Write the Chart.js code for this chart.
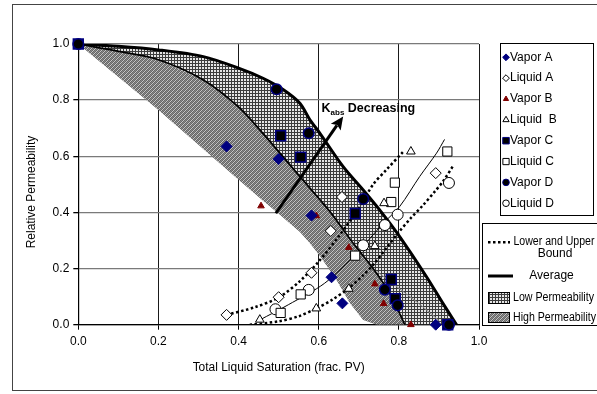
<!DOCTYPE html>
<html><head><meta charset="utf-8">
<script src="https://cdn.jsdelivr.net/npm/chart.js@4.4.0/dist/chart.umd.min.js"></script>
<style>html,body{margin:0;padding:0;background:#fff;}#wrap{width:597px;height:394px;}</style>
</head><body><div id="wrap"><canvas id="c" width="597" height="394"></canvas></div>
<script>
// ---- data ----
const xTickValues = [0, 0.2, 0.4, 0.6, 0.8, 1.0];
const yTickValues = [0, 0.2, 0.4, 0.6, 0.8, 1.0];
const xTitle = 'Total Liquid Saturation (frac. PV)';
const yTitle = 'Relative Permeability';

const vaporA  = [[0.37,0.635],[0.50,0.59],[0.582,0.389],[0.632,0.169],[0.659,0.076],[0.892,0.0]];
const liquidA = [[0.37,0.035],[0.50,0.098],[0.582,0.185],[0.63,0.334],[0.658,0.455],[0.892,0.54]];
const vaporB  = [[0.456,0.423],[0.594,0.388],[0.675,0.275],[0.74,0.145],[0.762,0.075],[0.83,0.0]];
const liquidB = [[0.453,0.018],[0.594,0.058],[0.675,0.128],[0.74,0.28],[0.763,0.433],[0.83,0.617]];
const vaporC  = [[0.0,1.0],[0.505,0.673],[0.555,0.597],[0.691,0.396],[0.781,0.161],[0.791,0.093],[0.922,0.0]];
const liquidC = [[0.505,0.042],[0.555,0.108],[0.691,0.246],[0.781,0.437],[0.79,0.506],[0.921,0.617]];
const vaporD  = [[0.0,1.0],[0.495,0.839],[0.575,0.682],[0.711,0.448],[0.765,0.125],[0.797,0.069],[0.925,0.0]];
const liquidD = [[0.492,0.055],[0.575,0.124],[0.711,0.283],[0.765,0.355],[0.797,0.392],[0.925,0.505]];

// vapour envelope curves
const upperCurve  = [[0.0,1.0],[0.1,0.992],[0.2,0.979],[0.312,0.955],[0.4,0.914],[0.461,0.878],[0.511,0.838],[0.553,0.789],[0.578,0.73],[0.603,0.682],[0.661,0.563],[0.711,0.48],[0.752,0.409],[0.802,0.314],[0.869,0.171],[0.91,0.076],[0.944,0.0]];
const middleCurve = [[0.0,1.0],[0.104,0.973],[0.2,0.944],[0.312,0.872],[0.399,0.777],[0.453,0.694],[0.553,0.528],[0.603,0.445],[0.634,0.392],[0.686,0.29],[0.732,0.207],[0.777,0.112],[0.815,0.0]];
const lowerEdge   = [[0.0,1.0],[0.2,0.765],[0.4,0.516],[0.45,0.455],[0.5,0.395],[0.553,0.33],[0.578,0.29],[0.603,0.245],[0.644,0.16],[0.678,0.076],[0.711,0.017],[0.745,0.0]];
const innerThin   = [[0.745,0.19],[0.8,0.13],[0.85,0.075],[0.9,0.015]];

// liquid curves
const liquidUpper = [[0.37,0.035],[0.44,0.062],[0.5,0.097],[0.553,0.155],[0.6,0.225],[0.65,0.315],[0.7,0.415],[0.736,0.5],[0.769,0.552],[0.81,0.615]];
const liquidLower = [[0.428,0.0],[0.5,0.012],[0.55,0.03],[0.594,0.058],[0.635,0.09],[0.675,0.13],[0.71,0.175],[0.74,0.22],[0.77,0.275],[0.8,0.33],[0.83,0.38],[0.86,0.425],[0.89,0.475],[0.91,0.51],[0.935,0.565]];
const liquidAvg   = [[0.453,0.017],[0.524,0.071],[0.615,0.148],[0.694,0.254],[0.761,0.361],[0.802,0.421],[0.852,0.528],[0.894,0.611],[0.914,0.66]];

const arrowFrom = [0.493, 0.397];
const arrowTo   = [0.661, 0.742];
const labelAt   = [0.607, 0.759];

const legendSeries = ['Vapor A','Liquid A','Vapor B','Liquid  B','Vapor C','Liquid C','Vapor D','Liquid D'];

// ---- helpers ----
const pts = a => a.map(p => ({x: p[0], y: p[1]}));
const FONT = '"Liberation Sans", Arial, Helvetica, sans-serif';
Chart.defaults.font.family = FONT;
Chart.defaults.font.size = 12;
Chart.defaults.color = '#000';

function makePattern(kind){
  const c = document.createElement('canvas');
  const g = c.getContext('2d');
  if (kind === 'cross') {
    c.width = 3; c.height = 3;
    g.fillStyle = '#e6e6e6'; g.fillRect(0,0,3,3);
    g.fillStyle = '#3c3c3c'; g.fillRect(0,0,3,1); g.fillRect(0,0,1,3);
  } else {
    c.width = 4; c.height = 4;
    g.fillStyle = '#c6c6c6'; g.fillRect(0,0,4,4);
    g.fillStyle = '#666';
    for (let x=0;x<4;x++) for (let y=0;y<4;y++) { if ((x + y) % 2 === 0) g.fillRect(x,y,1,1); }
    g.fillStyle = '#8a8a8a';
    for (let x=0;x<4;x++) for (let y=0;y<4;y++) { if ((x + y) % 4 === 1) g.fillRect(x,y,1,1); }
  }
  return document.getElementById('c').getContext('2d').createPattern(c,'repeat');
}
const crossPat = makePattern('cross');
const diagPat = makePattern('diag');

const lowPermPoly  = upperCurve.concat(middleCurve.slice().reverse());
const highPermPoly = middleCurve.concat(lowerEdge.slice().reverse());

function lineDs(data, opts){
  return Object.assign({data: pts(data), showLine: true, pointRadius: 0, pointHoverRadius: 0,
    borderColor: '#000', borderWidth: 1, fill: false, tension: 0.3}, opts);
}
function markDs(label, data, style, radius, bg, border, bw, order){
  return {label, data: pts(data), showLine: false, pointStyle: style, pointRadius: radius,
    pointHoverRadius: radius, backgroundColor: bg, borderColor: border, pointBorderWidth: bw,
    borderWidth: bw, order, clip: false};
}

const datasets = [
  lineDs(lowPermPoly, {fill: 'shape', backgroundColor: crossPat, borderWidth: 0, tension: 0, order: 20, borderColor: 'rgba(0,0,0,0)'}),
  lineDs(highPermPoly, {fill: 'shape', backgroundColor: diagPat, borderWidth: 0, tension: 0, order: 19, borderColor: 'rgba(0,0,0,0)'}),
  lineDs(innerThin, {borderColor: '#8a8a8a', borderWidth: 1, order: 15}),
  lineDs(middleCurve, {borderWidth: 1.7, order: 14}),
  lineDs(upperCurve, {borderWidth: 3, order: 13}),
  lineDs(liquidAvg, {borderWidth: 1, order: 12}),
  lineDs(liquidUpper, {borderWidth: 2.5, borderDash: [2.5,2.5], order: 11}),
  lineDs(liquidLower, {borderWidth: 2.5, borderDash: [2.5,2.5], order: 11}),
  markDs('Liquid A', liquidA, 'rectRot', 5.5, '#fff', '#000', 1, 9),
  markDs('Liquid B', liquidB, 'triangle', 5, '#fff', '#000', 1, 9),
  markDs('Liquid C', liquidC, 'rect', 6.5, '#fff', '#000', 1, 9),
  markDs('Liquid D', liquidD, 'circle', 5.5, '#fff', '#000', 1, 9),
  markDs('Vapor A', vaporA, 'rectRot', 5.5, '#000080', '#000080', 1, 5),
  markDs('Vapor B', vaporB, 'triangle', 3.8, '#800000', '#800000', 1, 5),
  markDs('Vapor C', vaporC, 'rect', 7, '#000000', '#000080', 1.5, 4),
  markDs('Vapor D', vaporD, 'circle', 5.3, '#000000', '#000080', 1.5, 3),
];

const decor = {
  id: 'decor',
  afterDraw(chart){
    const ctx = chart.ctx, xs = chart.scales.x, ys = chart.scales.y;
    const H = Chart.helpers;
    ctx.save();
    // outer frame
    ctx.strokeStyle = '#444'; ctx.lineWidth = 1;
    ctx.strokeRect(12.5, 4.5, 590, 386);
    // axis titles
    ctx.fillStyle = '#000';
    ctx.font = '12px ' + FONT;
    ctx.textAlign = 'center'; ctx.textBaseline = 'middle';
    ctx.fillText(xTitle, (xs.left + xs.right)/2, 368, 172);
    ctx.save(); ctx.translate(32, 192); ctx.rotate(-Math.PI/2);
    ctx.fillText(yTitle, 0, 0); ctx.restore();

    // arrow
    const ax0 = xs.getPixelForValue(arrowFrom[0]), ay0 = ys.getPixelForValue(arrowFrom[1]);
    const ax1 = xs.getPixelForValue(arrowTo[0]), ay1 = ys.getPixelForValue(arrowTo[1]);
    const ang = Math.atan2(ay1-ay0, ax1-ax0);
    const hl = 13, hw = 6;
    const bx = ax1 - hl*Math.cos(ang), by = ay1 - hl*Math.sin(ang);
    ctx.strokeStyle = '#000'; ctx.lineWidth = 3; ctx.lineCap = 'butt';
    ctx.beginPath(); ctx.moveTo(ax0, ay0); ctx.lineTo(bx + 2*Math.cos(ang), by + 2*Math.sin(ang)); ctx.stroke();
    ctx.fillStyle = '#000';
    ctx.beginPath(); ctx.moveTo(ax1, ay1);
    ctx.lineTo(bx + hw*Math.sin(ang), by - hw*Math.cos(ang));
    ctx.lineTo(bx + 2.5*Math.cos(ang), by + 2.5*Math.sin(ang));
    ctx.lineTo(bx - hw*Math.sin(ang), by + hw*Math.cos(ang));
    ctx.closePath(); ctx.fill();

    // annotation text
    let tx = xs.getPixelForValue(labelAt[0]), ty = ys.getPixelForValue(labelAt[1]);
    ctx.textAlign = 'left'; ctx.textBaseline = 'alphabetic';
    ctx.font = 'bold 12.5px ' + FONT;
    ctx.fillText('K', tx, ty); tx += ctx.measureText('K').width;
    ctx.font = 'bold 8px ' + FONT;
    ctx.fillText('abs', tx, ty + 3.5); tx += ctx.measureText('abs').width;
    ctx.font = 'bold 12.5px ' + FONT;
    ctx.fillText(' Decreasing', tx, ty);

    // legend 1
    ctx.fillStyle = '#fff'; ctx.fillRect(500.5, 43.5, 93, 172);
    ctx.strokeStyle = '#000'; ctx.lineWidth = 1;
    ctx.strokeRect(500.5, 43.5, 93, 172);
    const legStyles = [
      ['rectRot', 3.4, '#000080', '#000080', 1],
      ['rectRot', 3.4, '#fff', '#000', 1],
      ['triangle', 3, '#800000', '#800000', 1],
      ['triangle', 3.6, '#fff', '#000', 1],
      ['rect', 4.6, '#000', '#000080', 1],
      ['rect', 4.4, '#fff', '#000', 1],
      ['circle', 3.3, '#000', '#000080', 1],
      ['circle', 3.3, '#fff', '#000', 1],
    ];
    ctx.font = '12px ' + FONT; ctx.textBaseline = 'middle';
    legendSeries.forEach((name, i) => {
      const y = 57.3 + i*20.85;
      const s = legStyles[i];
      ctx.fillStyle = s[2]; ctx.strokeStyle = s[3]; ctx.lineWidth = s[4];
      H.drawPoint(ctx, {pointStyle: s[0], radius: s[1], rotation: 0, borderWidth: s[4]}, 506, y);
      ctx.fillStyle = '#000';
      ctx.fillText(name, 510, y);
    });

    // legend 2
    ctx.fillStyle = '#fff'; ctx.fillRect(482.5, 223.5, 120, 102);
    ctx.strokeStyle = '#000'; ctx.lineWidth = 1;
    ctx.strokeRect(482.5, 223.5, 120, 102);
    ctx.setLineDash([2.5,2.5]); ctx.lineWidth = 2.5;
    ctx.beginPath(); ctx.moveTo(488, 242.3); ctx.lineTo(510, 242.3); ctx.stroke();
    ctx.setLineDash([]); ctx.lineWidth = 3;
    ctx.beginPath(); ctx.moveTo(488, 276); ctx.lineTo(513, 276); ctx.stroke();
    ctx.fillStyle = crossPat; ctx.fillRect(488, 292.5, 21, 11);
    ctx.fillStyle = diagPat; ctx.fillRect(488, 312.5, 21, 10);
    ctx.lineWidth = 1; ctx.strokeStyle = '#000';
    ctx.strokeRect(488.5, 292.5, 21, 11); ctx.strokeRect(488.5, 312.5, 21, 10);
    ctx.fillStyle = '#000'; ctx.textAlign = 'center'; ctx.textBaseline = 'middle';
    ctx.font = '12px ' + FONT;
    ctx.fillText('Lower and Upper', 554, 242, 81);
    ctx.fillText('Bound', 555, 253.5);
    ctx.fillText('Average', 551.5, 276);
    ctx.fillText('Low Permeability', 553.5, 297.5, 81);
    ctx.fillText('High Permeability', 554.5, 317.5, 83);
    ctx.restore();
  }
};

new Chart(document.getElementById('c'), {
  type: 'scatter',
  data: {datasets},
  plugins: [decor],
  options: {
    responsive: false, animation: false, devicePixelRatio: 1,
    layout: {padding: {left: 0, top: 44, right: 118, bottom: 0}},
    plugins: {legend: {display: false}, tooltip: {enabled: false}},
    scales: {
      x: {
        type: 'linear', min: 0, max: 1,
        afterFit: s => { s.height = 69.3; },
        afterBuildTicks: s => { s.ticks = xTickValues.map(v => ({value: v})); },
        ticks: {callback: v => v.toFixed(1), padding: 5, font: {size: 12}, color: '#000', maxRotation: 0},
        grid: {color: '#1a1a1a', lineWidth: 1, tickColor: '#000', tickLength: 5},
        border: {color: '#000', width: 1.2}
      },
      y: {
        type: 'linear', min: 0, max: 1,
        afterFit: s => { s.width = 78.3; },
        afterBuildTicks: s => { s.ticks = yTickValues.map(v => ({value: v})); },
        ticks: {callback: v => v.toFixed(1), padding: 4, font: {size: 12}, color: '#000'},
        grid: {color: '#7a7a7a', lineWidth: 1.3, tickColor: '#000', tickLength: 5},
        border: {color: '#000', width: 1.2}
      }
    }
  }
});
</script></body></html>
